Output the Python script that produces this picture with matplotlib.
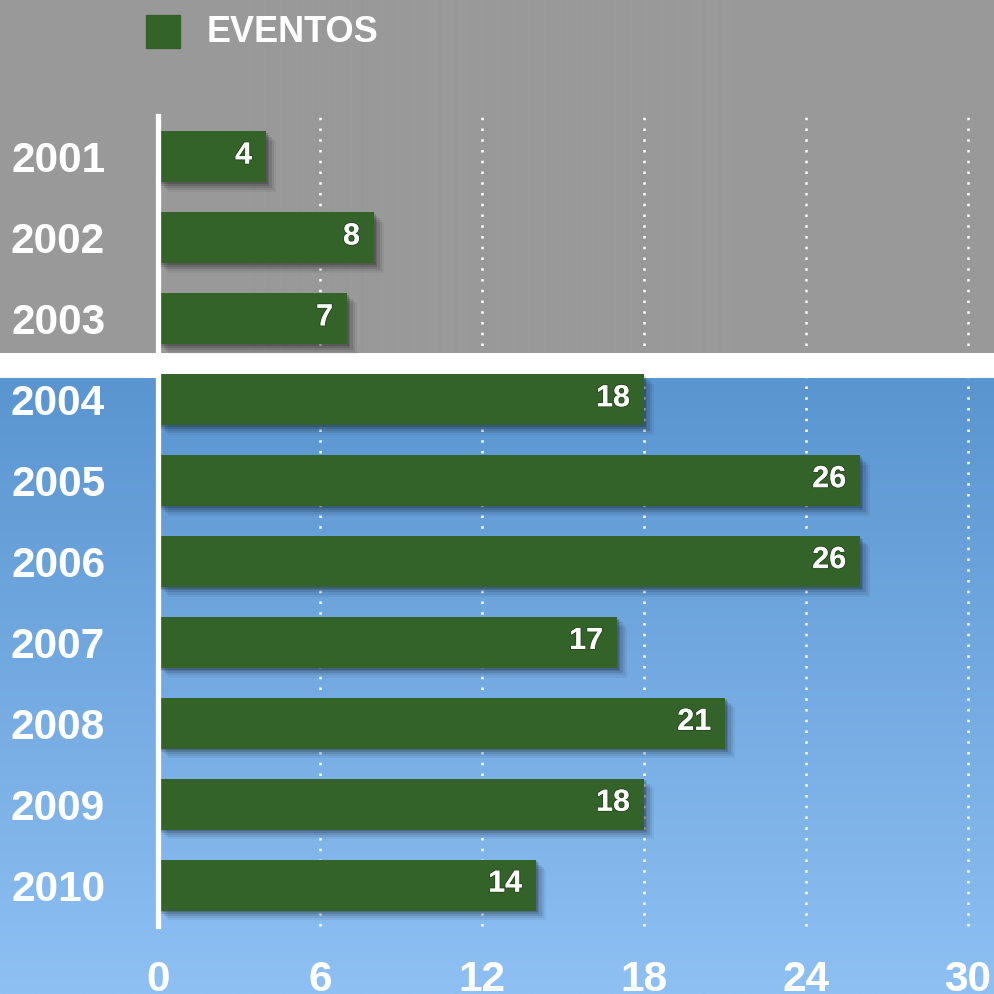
import numpy as np
import matplotlib
matplotlib.use("Agg")
import matplotlib.pyplot as plt
import matplotlib.patheffects as pe

# ---- data ----
years = ["2001", "2002", "2003", "2004", "2005", "2006", "2007", "2008", "2009", "2010"]
eventos = [4, 8, 7, 18, 26, 26, 17, 21, 18, 14]
x_ticks = [0, 6, 12, 18, 24, 30]
series_name = "EVENTOS"

# ---- style ----
W = H = 994
DPI = 100
bar_color = "#346329"
gray = np.array([153, 153, 153]) / 255
blue_top = np.array([90, 149, 208]) / 255
blue_bot = np.array([142, 192, 243]) / 255
font = ["Liberation Sans", "DejaVu Sans"]
plt.rcParams["font.family"] = font

fig = plt.figure(figsize=(W / DPI, H / DPI), dpi=DPI)

# background image (pixel rows)
bg = np.zeros((H, 1, 3))
bg[:353] = gray
bg[353:378] = 1.0
t = np.linspace(0, 1, H - 378)[:, None]
bg[378:, 0, :] = blue_top * (1 - t) + blue_bot * t
bgax = fig.add_axes([0, 0, 1, 1], zorder=-10)
bgax.imshow(bg, aspect="auto", extent=[0, 1, 0, 1], interpolation="bilinear")
bgax.axis("off")

# main axes
x0_px, x30_px = 158, 968
y_top_px, y_bot_px = 116.5, 925.5
ax = fig.add_axes([x0_px / W, 1 - y_bot_px / H, (x30_px - x0_px) / W, (y_bot_px - y_top_px) / H])
ax.set_facecolor("none")
ax.set_xlim(0, 30)
ax.set_ylim(len(years) - 0.5, -0.5)

ypos = np.arange(len(years))
shadow = [pe.SimplePatchShadow(offset=(o, -o), shadow_rgbFace="black", alpha=a)
          for o, a in [(7, 0.05), (5.5, 0.07), (4, 0.1), (2.5, 0.13), (1.2, 0.15)]]
bars = ax.barh(ypos, eventos, height=0.63, color=bar_color, zorder=3,
               path_effects=shadow + [pe.Normal()])

for y, v in zip(ypos, eventos):
    ax.annotate(str(v), xy=(v, y), xytext=(-10, 1), textcoords="offset points",
                ha="right", va="center", color="white", fontsize=22, fontweight="bold",
                zorder=5, path_effects=[pe.withStroke(linewidth=1.5, foreground=(0, 0, 0, 0.25))])

# grid
ax.set_xticks(x_ticks)
ax.xaxis.grid(True, color="white", linestyle=(0, (1, 3.3)), linewidth=1.8, zorder=1)
for gl in ax.get_xgridlines():
    gl.set_clip_on(False)
ax.yaxis.grid(False)
ax.set_axisbelow(True)

for s in ["top", "right", "bottom"]:
    ax.spines[s].set_visible(False)
ax.spines["left"].set_color("white")
ax.spines["left"].set_linewidth(3.8)
ax.spines["left"].set_zorder(6)

ax.set_yticks(ypos)
ax.set_yticklabels(years)
ax.tick_params(axis="y", length=0, pad=38, labelsize=30.5, labelcolor="white")
ax.tick_params(axis="x", length=0, pad=25, labelsize=30.5, labelcolor="white")
for lab in ax.get_yticklabels() + ax.get_xticklabels():
    lab.set_fontweight("bold")

# legend
fig.patches.append(plt.Rectangle((146 / W, 1 - 48 / H), 34 / W, 33 / H, transform=fig.transFigure,
                                 color=bar_color, zorder=5))
fig.text(207 / W, 1 - 33 / H, series_name, color="white", fontsize=26, fontweight="bold",
         ha="left", va="center")

fig.savefig("out.png", dpi=DPI)
